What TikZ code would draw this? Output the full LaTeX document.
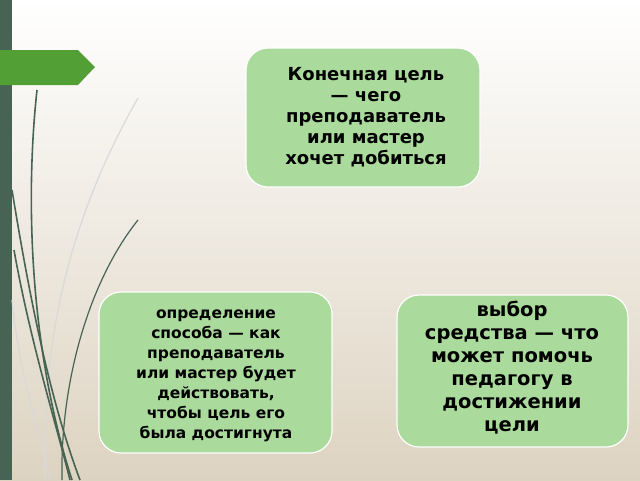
\documentclass[tikz,border=0pt]{standalone}
\usepackage{fontspec}
\setmainfont{DejaVu Sans}
\begin{document}
\begin{tikzpicture}[x=1pt,y=-1pt,
  box/.style={draw=white,line width=1.2pt,fill=boxgreen,rounded corners=22pt,align=center,font=\bfseries},
  grass/.style={draw=stem,line width=1.6pt},
  lgrass/.style={draw=black!15,line width=1.2pt}]
\definecolor{boxgreen}{HTML}{ABDB9C}
\definecolor{stem}{HTML}{466353}
\definecolor{arrowg}{HTML}{52A035}
\definecolor{beige}{HTML}{DDD3C1}
\shade[top color=white,bottom color=beige] (0,0) rectangle (640,480);
\useasboundingbox (0,0) rectangle (640,480);
\fill[stem] (0,0) rectangle (12,480);
\fill[arrowg] (0,50) -- (78,50) -- (95,67) -- (78,85) -- (0,85) -- cycle;
% grass
\draw[lgrass] (138,98) .. controls (80,200) and (40,320) .. (45,480);
\draw[lgrass] (12,300) .. controls (20,380) and (40,430) .. (50,480);
\draw[grass] (37,90) .. controls (25,200) and (30,350) .. (72,480);
\draw[grass] (12,190) .. controls (30,300) and (50,400) .. (80,480);
\draw[grass] (14,250) .. controls (30,340) and (55,420) .. (70,480);
\draw[grass,line width=1.2pt] (138,220) .. controls (90,280) and (60,380) .. (62,480);
% boxes
\draw[box] (246,48) rectangle (480,187);
\draw[box] (99,292) rectangle (332,453);
\draw[box] (397,295) rectangle (628,447);
\node[align=center,font=\bfseries\fontsize{18}{21}\selectfont] (t1) at (366,117)
  {Конечная цель\\— чего\\преподаватель\\или мастер\\хочет добиться};
\node[align=center,font=\bfseries\fontsize{15.5}{20}\selectfont] (t2) at (216,376)
  {определение\\способа — как\\преподаватель\\или мастер будет\\действовать,\\чтобы цель его\\была достигнута};
\node[align=center,font=\bfseries\fontsize{19.5}{23}\selectfont] (t3) at (512,368)
  {выбор\\средства — что\\может помочь\\педагогу в\\достижении\\цели};
\end{tikzpicture}
\end{document}
